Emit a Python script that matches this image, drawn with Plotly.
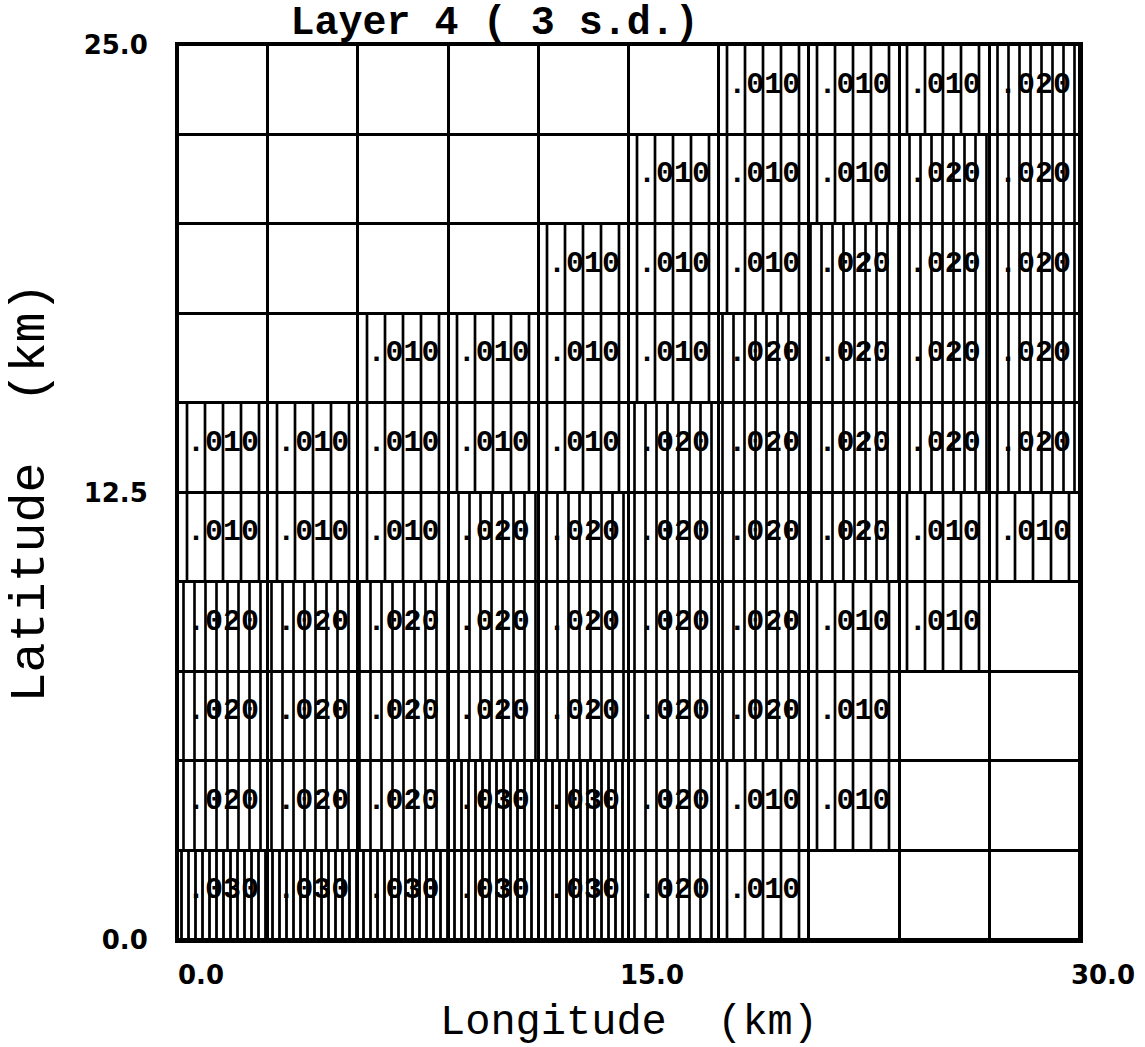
import plotly.graph_objects as go

# Grid definition (km)
x_edges_step = 3.0
y_edges_step = 2.5

# Cell values, rows listed from top (22.5-25 km) to bottom (0-2.5 km); "" = no value
rows_top_to_bottom = [
    ["", "", "", "", "", "", ".010", ".010", ".010", ".020"],
    ["", "", "", "", "", ".010", ".010", ".010", ".020", ".020"],
    ["", "", "", "", ".010", ".010", ".010", ".020", ".020", ".020"],
    ["", "", ".010", ".010", ".010", ".010", ".020", ".020", ".020", ".020"],
    [".010", ".010", ".010", ".010", ".010", ".020", ".020", ".020", ".020", ".020"],
    [".010", ".010", ".010", ".020", ".020", ".020", ".020", ".020", ".010", ".010"],
    [".020", ".020", ".020", ".020", ".020", ".020", ".020", ".010", ".010", ""],
    [".020", ".020", ".020", ".020", ".020", ".020", ".020", ".010", "", ""],
    [".020", ".020", ".020", ".030", ".030", ".020", ".010", ".010", "", ""],
    [".030", ".030", ".030", ".030", ".030", ".020", ".010", "", "", ""],
]

x_tick_vals = [0, 15, 30]
x_tick_text = ["0.0", "15.0", "30.0"]
y_tick_vals = [0, 12.5, 25]
y_tick_text = ["0.0", "12.5", "25.0"]

# hatch style per class: (pattern spacing px, solidity)
hatch = {
    "": None,
    ".010": (18, 0.15),
    ".020": (11, 0.24),
    ".030": (7, 0.4),
}

rows = list(reversed(rows_top_to_bottom))

fig = go.Figure()

for cls, style in hatch.items():
    xs, bases, ys = [], [], []
    for j, row in enumerate(rows):
        for i, v in enumerate(row):
            if v == cls:
                xs.append(x_edges_step * (i + 0.5))
                bases.append(y_edges_step * j)
                ys.append(y_edges_step)
    if not xs:
        continue
    marker = dict(color="white", line=dict(color="black", width=3))
    if style is not None:
        marker["pattern"] = dict(shape="|", size=style[0], solidity=style[1],
                                 fgcolor="black", bgcolor="white", fillmode="replace")
    fig.add_trace(go.Bar(x=xs, y=ys, base=bases, width=x_edges_step,
                         marker=marker, hoverinfo="skip", showlegend=False))

# labels
tx, ty, tt = [], [], []
for j, row in enumerate(rows):
    for i, v in enumerate(row):
        if v:
            tx.append(x_edges_step * (i + 0.5))
            ty.append(y_edges_step * (j + 0.5) + 0.12)
            tt.append(v)
fig.add_trace(go.Scatter(x=tx, y=ty, text=tt, mode="text",
                         textfont=dict(family="Liberation Mono", size=30, color="black", weight="bold"),
                         hoverinfo="skip", showlegend=False))

fig.update_layout(
    width=1145, height=1047,
    margin=dict(l=178, r=65, t=45, b=107),
    paper_bgcolor="white", plot_bgcolor="white",
    barmode="overlay", bargap=0,
    title=dict(text="Layer 4 ( 3 s.d.)", x=0.432, xanchor="center", y=0.981, yanchor="middle",
               font=dict(family="Liberation Mono", size=40, color="black", weight="bold")),
)
fig.update_xaxes(range=[0, 30], tickvals=x_tick_vals, ticktext=x_tick_text,
                 showgrid=False, zeroline=False, showline=True, mirror=True,
                 linecolor="black", linewidth=3, ticks="", ticklabelshift=23, ticklabelstandoff=10,
                 tickfont=dict(family="DejaVu Sans", size=26, color="black", weight="bold"),
                 title=dict(text="Longitude  (km)", standoff=16,
                            font=dict(family="Liberation Mono", size=42, color="black")),
                 automargin=False)
fig.update_yaxes(range=[0, 25], tickvals=y_tick_vals, ticktext=y_tick_text,
                 showgrid=False, zeroline=False, showline=True, mirror=True,
                 linecolor="black", linewidth=3, ticks="", ticklabelstandoff=22,
                 tickfont=dict(family="DejaVu Sans", size=26, color="black", weight="bold"),
                 title=dict(text="Latitude  (km)", standoff=24,
                            font=dict(family="Liberation Mono", size=50, color="black")),
                 automargin=False)

fig.write_html("out.html")
